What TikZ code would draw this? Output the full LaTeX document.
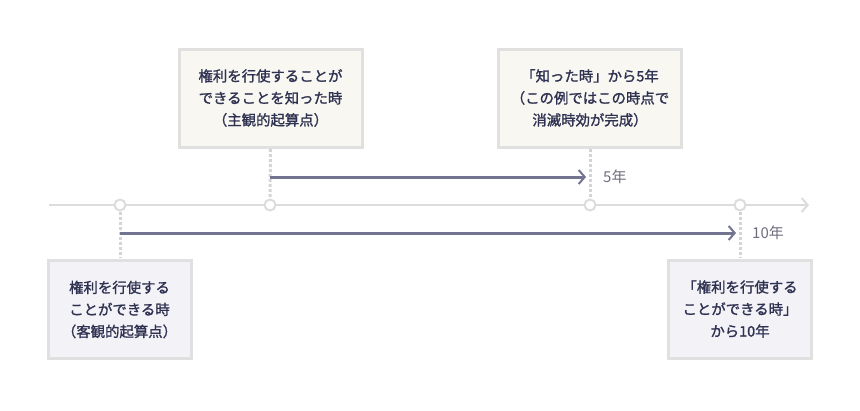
\documentclass[tikz,border=0pt]{standalone}
\usepackage{fontspec}
\setmainfont{Noto Sans CJK JP}
\newfontfamily\boxfont[FakeBold=1.3]{Noto Sans CJK JP}
\usetikzlibrary{arrows.meta}
\definecolor{txt}{HTML}{2E3150}
\definecolor{linegray}{HTML}{DCDCDC}
\definecolor{dashgray}{HTML}{D4D4D8}
\definecolor{arrowc}{HTML}{727490}
\definecolor{boxborder}{HTML}{E0E0E0}
\definecolor{beige}{HTML}{F8F7F2}
\definecolor{lav}{HTML}{F2F2F7}
\definecolor{lbl}{HTML}{6E6E7E}
\tikzset{
  infobox/.style={draw=boxborder, line width=3pt, minimum width=183pt, minimum height=98pt,
    align=center, font=\boxfont\fontsize{14.4}{22}\selectfont, text=txt, inner sep=0pt},
  topbox/.style={infobox, fill=beige},
  botbox/.style={infobox, fill=lav, minimum width=143pt},
  tick/.style={circle, draw=linegray, fill=white, line width=2pt, minimum size=11pt, inner sep=0pt},
  guide/.style={draw=dashgray, line width=3pt, dash pattern=on 3pt off 2pt},
  period/.style={draw=arrowc, line width=3pt, -{Straight Barb[length=6pt,width=14pt,line width=2pt]}},
  yearlbl/.style={text=lbl, font=\fontsize{15}{17}\selectfont, anchor=west, inner sep=0pt}
}
\begin{document}
\begin{tikzpicture}[x=1pt,y=-1pt]
\useasboundingbox (0,0) rectangle (860,410);
% timeline
\coordinate (tlstart) at (49,205);
\coordinate (tlend) at (809,205);
\draw[draw=linegray, line width=2pt, -{Straight Barb[length=6pt,width=14pt,line width=2pt]}] (tlstart) -- (tlend);
% boxes
\node[topbox] (b1) at (270.5,98) {権利を行使することが\\できることを知った時\\（主観的起算点）};
\node[topbox] (b2) at (590,98) {「知った時」から5年\\（この例ではこの時点で\\消滅時効が完成）};
\node[botbox] (b3) at (119.5,309.5) {権利を行使する\\ことができる時\\（客観的起算点）};
\node[botbox] (b4) at (740,309) {「権利を行使する\\ことができる時」\\から10年};
% ticks
\node[tick] (t1) at (120,205) {};
\node[tick] (t2) at (270,205) {};
\node[tick] (t3) at (590,205) {};
\node[tick] (t4) at (740,205) {};
% guides
\draw[guide] (b1.south |- 0,149) -- (t2.north);
\draw[guide] (b2.south |- 0,149) -- (t3.north);
\draw[guide] (t1.south) -- (t1 |- 0,258);
\draw[guide] (t4.south) -- (t4 |- 0,258);
% periods
\coordinate (p1s) at (270,177);
\coordinate (p1e) at (586,177);
\coordinate (p2s) at (120,233);
\coordinate (p2e) at (736,233);
\draw[period] (p1s) -- (p1e);
\draw[period] (p2s) -- (p2e);
\node[yearlbl] (l1) at (603,177) {5年};
\node[yearlbl] (l2) at (752,233) {10年};
\end{tikzpicture}
\end{document}
